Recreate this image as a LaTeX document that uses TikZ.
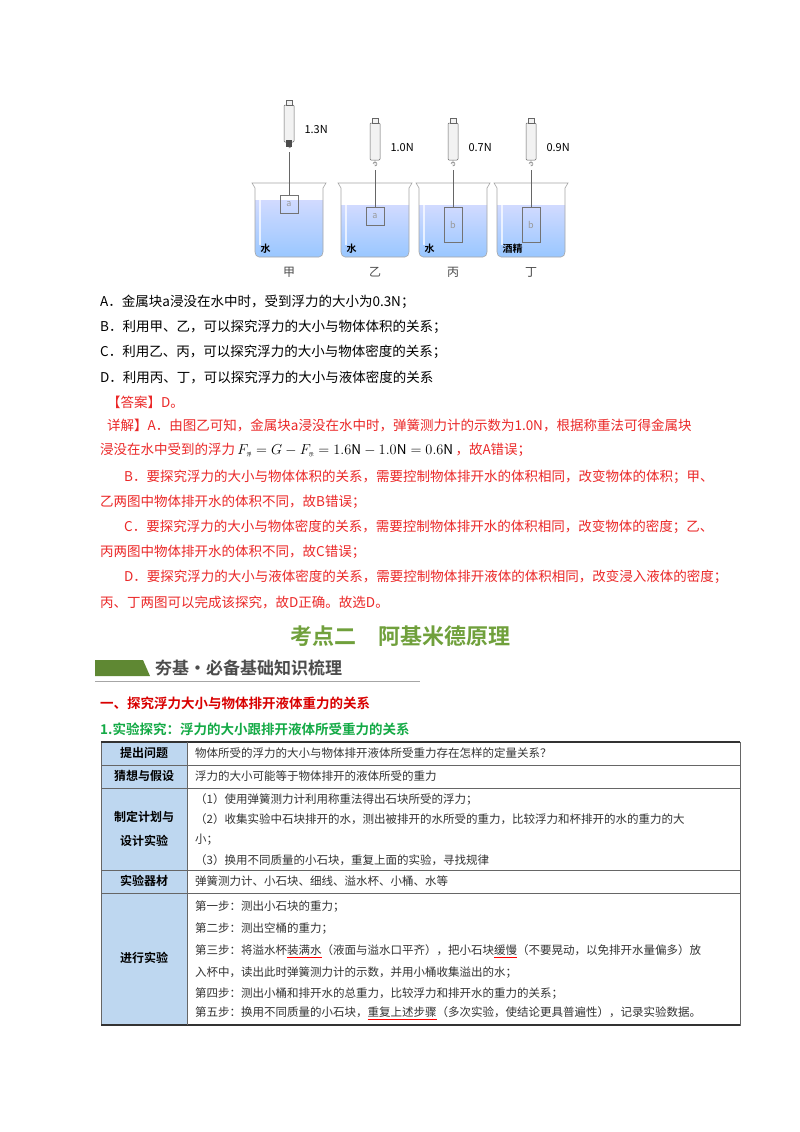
\documentclass[tikz,border=0pt]{standalone}
\usepackage{fontspec}
\setmainfont{Noto Sans CJK SC}[BoldFont={Noto Sans CJK SC Bold}]
\usetikzlibrary{calc,positioning}
\definecolor{ansred}{RGB}{235,40,40}
\definecolor{headgreen}{RGB}{112,160,60}
\definecolor{subgreen}{RGB}{20,170,70}
\definecolor{cellblue}{RGB}{190,215,240}
\newsavebox{\wavebox}
\newcommand{\redwave}[1]{\sbox{\wavebox}{#1}\rlap{\textcolor{red}{\rule[-3pt]{\wd\wavebox}{0.6pt}}}\usebox{\wavebox}}
\tikzset{
  txt/.style={anchor=west,inner sep=0pt,font=\fontsize{13.5}{14}\selectfont},
  redtxt/.style={txt,text=ansred},
  cell/.style={anchor=west,inner sep=0pt,font=\fontsize{11.5}{12}\selectfont,text=black!80},
  head/.style={anchor=center,inner sep=0pt,font=\fontsize{12}{12}\bfseries\selectfont},
  beaker/.style={draw=black!35,line width=0.6pt,fill=cyan!6},
  meter/.style={draw=black!60,line width=0.5pt,fill=black!5}
}
\begin{document}
\begin{tikzpicture}[x=1pt,y=-1pt]
    \useasboundingbox[fill=white] (0,0) rectangle (800,1132);
    % beakers
    \foreach \cx/\mt/\wl/\bl/\bt/\bb/\lab/\val/\liq in {289/100/200/a/195/213/甲/1.3N/水,375/118/205/a/207/225/乙/1.0N/水,453/118/205/b/207/242/丙/0.7N/水,531/118/205/b/207/242/丁/0.9N/酒精}{
      \shade[top color=cyan!20!blue!18,bottom color=cyan!45!blue!40] (\cx-34,\wl) -- (\cx+34,\wl) -- (\cx+34,252) to[out=-90,in=0] (\cx+30,257) -- (\cx-30,257) to[out=180,in=-90] (\cx-34,252) -- cycle;
      \draw[beaker,fill=none] (\cx-37,183) -- (\cx+37,183) -- (\cx+34,188) -- (\cx+34,252) to[out=-90,in=0] (\cx+30,257) -- (\cx-30,257) to[out=180,in=-90] (\cx-34,252) -- (\cx-34,188) -- cycle;
      \draw[white,line width=2pt,opacity=0.7] (\cx-29,192) -- (\cx-29,245);
      \draw[black!60,line width=0.4pt] (\cx,\mt+52) -- (\cx,\bt);
      \draw[black!55,line width=0.5pt,fill=none] (\cx-9,\bt) rectangle (\cx+9,\bb);
      \node[font=\itshape\small,text=black!40] at (\cx,{(\bt+\bb)/2}) {\bl};
      \draw[meter,rounded corners=1pt] (\cx-5,\mt+5) rectangle (\cx+5,\mt+42);
      \draw[meter] (\cx-3,\mt) rectangle (\cx+3,\mt+5);
      \draw[black!60] (\cx,\mt+42) -- (\cx,\mt+48) arc (90:-180:2);
      \node[anchor=west,font=\fontsize{11}{11}\selectfont] at (\cx+12,\mt+30) {\val};
      \node[anchor=west,font=\fontsize{10}{10}\bfseries\selectfont] at (\cx-32,249) {\liq};
      \node[font=\fontsize{12}{12}\selectfont,text=black!70] at (\cx,272) {\lab};
    }
    \fill[black!70] (286,140) rectangle (292,147);
    % options
    \node[txt] (optA) at (100,302) {A．金属块a浸没在水中时，受到浮力的大小为0.3N；};
    \node[txt] (optB) at (100,327) {B．利用甲、乙，可以探究浮力的大小与物体体积的关系；};
    \node[txt] (optC) at (100,352) {C．利用乙、丙，可以探究浮力的大小与物体密度的关系；};
    \node[txt] (optD) at (100,377) {D．利用丙、丁，可以探究浮力的大小与液体密度的关系};
    \node[redtxt] (ans) at (107,402) {【答案】D。};
    \node[redtxt] (ex1) at (107,425) {详解】A．由图乙可知，金属块a浸没在水中时，弹簧测力计的示数为1.0N，根据称重法可得金属块};
    \node[redtxt] (ex2) at (100,450) {浸没在水中受到的浮力\,\textcolor{black}{$F_{\mbox{\tiny 浮}}=G-F_{\mbox{\tiny 示}}=1.6\mathrm{N}-1.0\mathrm{N}=0.6\mathrm{N}$}\,，故A错误；};
    \node[redtxt] (ex3) at (124,477) {B．要探究浮力的大小与物体体积的关系，需要控制物体排开水的体积相同，改变物体的体积；甲、};
    \node[redtxt] (ex4) at (100,502) {乙两图中物体排开水的体积不同，故B错误；};
    \node[redtxt] (ex5) at (124,527) {C．要探究浮力的大小与物体密度的关系，需要控制物体排开水的体积相同，改变物体的密度；乙、};
    \node[redtxt] (ex6) at (100,552) {丙两图中物体排开水的体积不同，故C错误；};
    \node[redtxt] (ex7) at (124,577) {D．要探究浮力的大小与液体密度的关系，需要控制物体排开液体的体积相同，改变浸入液体的密度；};
    \node[redtxt] (ex8) at (100,602) {丙、丁两图可以完成该探究，故D正确。故选D。};
    % headings
    \node[font=\fontsize{22}{22}\bfseries\selectfont,text=headgreen] (title) at (400,636) {考点二\quad 阿基米德原理};
    \fill[headgreen!85!black] (95,660) -- (143,660) -- (150,676) -- (95,676) -- cycle;
    \node[anchor=west,inner sep=0pt,font=\fontsize{17}{17}\bfseries\selectfont,text=black!70] (band) at (155,668) {夯基·必备基础知识梳理};
    \draw[black!35,line width=1pt] (95,681) -- (420,681);
    \node[txt,text=red!85!black,font=\fontsize{13.5}{14}\bfseries\selectfont] (sec1) at (100,703) {一、探究浮力大小与物体排开液体重力的关系};
    \node[txt,text=subgreen,font=\fontsize{13.5}{14}\bfseries\selectfont] (sub1) at (100,729) {1.实验探究：浮力的大小跟排开液体所受重力的关系};
    % table
    \fill[cellblue] (101,742) rectangle (187,1025);
    \foreach \ya/\yb in {742/765,765/788,788/870,870/893,893/1025}{
      \draw[black!60,line width=0.5pt] (101,\ya) rectangle (740,\yb);
    }
    \draw[black!80,line width=1.2pt] (101,742) -- (740,742);
    \draw[black!80,line width=1.2pt] (101,1025) -- (740,1025);
    \draw[black!60,line width=0.5pt] (187,742) -- (187,1025);
    \node[head] (h1) at (144,753) {提出问题};
    \node[head] (h2) at (144,776) {猜想与假设};
    \node[head,align=center,font=\fontsize{12}{24}\bfseries\selectfont] (h3) at (144,829) {制定计划与\\设计实验};
    \node[head] (h4) at (144,881) {实验器材};
    \node[head] (h5) at (144,958) {进行实验};
    \node[cell] (c1) at (195,753) {物体所受的浮力的大小与物体排开液体所受重力存在怎样的定量关系？};
    \node[cell] (c2) at (195,776) {浮力的大小可能等于物体排开的液体所受的重力};
    \node[cell] (c3a) at (195,799) {（1）使用弹簧测力计利用称重法得出石块所受的浮力；};
    \node[cell] (c3b) at (195,819) {（2）收集实验中石块排开的水，测出被排开的水所受的重力，比较浮力和杯排开的水的重力的大};
    \node[cell] (c3c) at (195,840) {小；};
    \node[cell] (c3d) at (195,860) {（3）换用不同质量的小石块，重复上面的实验，寻找规律};
    \node[cell] (c4) at (195,881) {弹簧测力计、小石块、细线、溢水杯、小桶、水等};
    \node[cell] (c5a) at (195,907) {第一步：测出小石块的重力；};
    \node[cell] (c5b) at (195,929) {第二步：测出空桶的重力；};
    \node[cell] (c5c) at (195,951) {第三步：将溢水杯\redwave{装满水}（液面与溢水口平齐），把小石块\redwave{缓慢}（不要晃动，以免排开水量偏多）放};
    \node[cell] (c5d) at (195,973) {入杯中，读出此时弹簧测力计的示数，并用小桶收集溢出的水；};
    \node[cell] (c5e) at (195,994) {第四步：测出小桶和排开水的总重力，比较浮力和排开水的重力的关系；};
    \node[cell] (c5f) at (195,1013) {第五步：换用不同质量的小石块，\redwave{重复上述步骤}（多次实验，使结论更具普遍性），记录实验数据。};
\end{tikzpicture}
\end{document}
